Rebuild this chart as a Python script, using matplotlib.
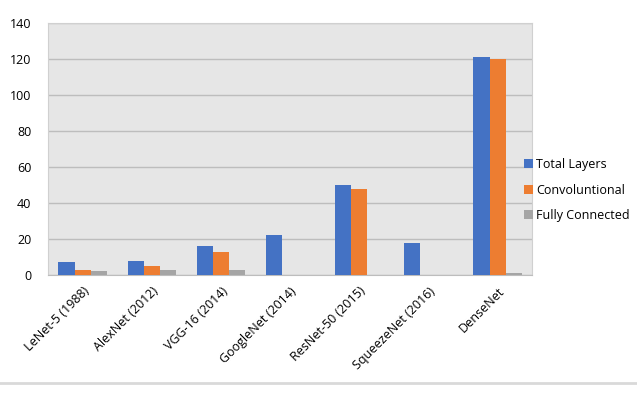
import numpy as np
import matplotlib
matplotlib.use("Agg")
import matplotlib.pyplot as plt
from matplotlib.lines import Line2D

plt.rcParams["font.family"] = ["Open Sans", "DejaVu Sans"]

models = [
    "LeNet-5 (1988)",
    "AlexNet (2012)",
    "VGG-16 (2014)",
    "GoogleNet (2014)",
    "ResNet-50 (2015)",
    "SqueezeNet (2016)",
    "DenseNet",
]
total_layers = [7, 8, 16, 22, 50, 18, 121]
convolutional = [3, 5, 13, 0, 48, 0, 120]
fully_connected = [2, 3, 3, 0, 0, 0, 1]

series_names = ["Total Layers", "Convoluntional", "Fully Connected"]
colors = ["#4472C4", "#ED7D31", "#A5A5A5"]

fig = plt.figure(figsize=(6.37, 3.96), dpi=100)
ax = fig.add_axes([0.0754, 0.3056, 0.76, 0.636])
ax.set_facecolor("#e6e6e6")

x = np.arange(len(models))
width = 0.233
for i, (vals, name, c) in enumerate(zip([total_layers, convolutional, fully_connected], series_names, colors)):
    ax.bar(x + (i - 1) * width, vals, width, color=c, label=name, zorder=3)

ax.set_xlim(-0.5, len(models) - 0.5)
ax.set_ylim(0, 140)
ax.set_yticks(range(0, 141, 20))
ax.yaxis.grid(True, color="#bdbdbd", linewidth=1, zorder=0)
ax.tick_params(axis="both", length=0, labelsize=9, colors="#000000")
ax.tick_params(axis="y", pad=12)
ax.set_xticks(x)
ax.set_xticklabels(models, rotation=45, ha="right", rotation_mode="anchor")
ax.tick_params(axis="x", pad=7)
for side in ["top", "right", "left"]:
    ax.spines[side].set_color("#d0d0d0")
ax.spines["bottom"].set_color("#bdbdbd")

ax.legend(loc="center left", bbox_to_anchor=(0.973, 0.337), frameon=False,
          fontsize=9, handlelength=0.7, handleheight=0.7, handletextpad=0.25,
          labelspacing=1.0, borderaxespad=0)

fig.add_artist(Line2D([0, 1], [1 - 383 / 396, 1 - 383 / 396], color="#d9d9d9", linewidth=2))

fig.savefig("out.png", dpi=100)
